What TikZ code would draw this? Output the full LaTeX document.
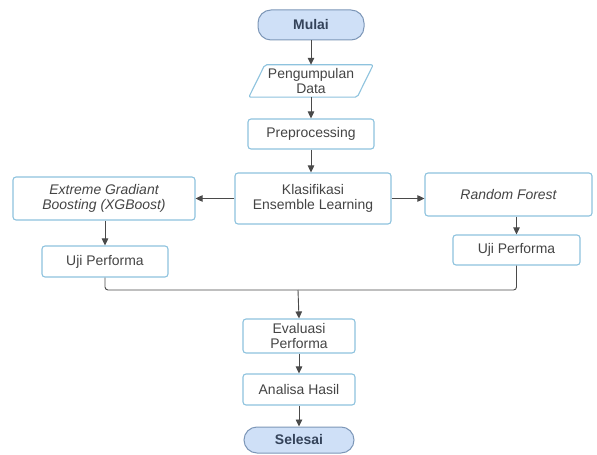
\documentclass[tikz,border=0pt]{standalone}
\usepackage{fontspec}
\setmainfont{Liberation Sans}
\usetikzlibrary{arrows.meta,calc}
\definecolor{boxc}{HTML}{8EC3DE}
\definecolor{termfill}{HTML}{CFE0F7}
\definecolor{termdraw}{HTML}{7D97B8}
\definecolor{txt}{HTML}{444444}
\definecolor{termtxt}{HTML}{34435A}
\definecolor{linec}{HTML}{4A4A4A}
\begin{document}
\begin{tikzpicture}[x=1bp,y=-1bp,
  every node/.style={font=\fontsize{14}{15.5}\selectfont, text=txt, align=center, inner sep=0pt},
  procbox/.style={draw=boxc, line width=1.1bp, fill=white, rounded corners=3bp, rectangle},
  termbox/.style={draw=termdraw, line width=1bp, fill=termfill, rectangle, rounded corners=13bp,
    font=\fontsize{14}{15.5}\selectfont\bfseries, text=termtxt},
  conn/.style={draw=linec, line width=0.9bp},
  arr/.style={conn, -{Triangle[length=7bp,width=6.5bp]}}
]
\useasboundingbox (0,0) rectangle (597,455);
\fill[white] (0,0) rectangle (597,455);

\node[termbox, minimum width=106bp, minimum height=30bp] (mulai) at (311,25) {Mulai};
\node[minimum width=124bp, minimum height=32bp] (pd) at (311,81) {};
\draw[draw=boxc, line width=1.1bp, fill=white, rounded corners=2bp]
  (pd.south west) -- ([xshift=-16bp]pd.south east) -- (pd.north east) -- ([xshift=16bp]pd.north west) -- cycle;
\node at (pd.center) {Pengumpulan\\Data};
\node[procbox, minimum width=126bp, minimum height=30bp] (pre) at (311,134) {Preprocessing};
\node[procbox, minimum width=156bp, minimum height=51bp] (kla) at (313,198.5) {Klasifikasi\\Ensemble Learning};
\node[procbox, minimum width=182bp, minimum height=43bp, font=\fontsize{14}{15.5}\selectfont\itshape] (xgb) at (104,198.5) {Extreme Gradiant\\Boosting (XGBoost)};
\node[procbox, minimum width=167bp, minimum height=43bp, font=\fontsize{14}{15.5}\selectfont\itshape] (rf) at (508.5,194.5) {Random Forest};
\node[procbox, minimum width=126bp, minimum height=31bp] (ujiL) at (105,261.5) {Uji Performa};
\node[procbox, minimum width=127bp, minimum height=30bp] (ujiR) at (516.5,250) {Uji Performa};
\node[procbox, minimum width=112bp, minimum height=34bp] (ev) at (299,336) {Evaluasi\\Performa};
\node[procbox, minimum width=112bp, minimum height=31bp] (an) at (299,389.5) {Analisa Hasil};
\node[termbox, minimum width=110bp, minimum height=26bp] (sel) at (299,440) {Selesai};
\coordinate (m) at (298,290);

\draw[arr] (mulai.south) -- (pd.north);
\draw[arr] (pd.south) -- (pre.north);
\draw[arr] (pre.south) -- (pre.south |- kla.north);
\draw[arr] (kla.west) -- (xgb.east |- kla.west);
\draw[arr] (kla.east) -- (rf.west |- kla.east);
\draw[arr] (ujiL.north |- xgb.south) -- (ujiL.north);
\draw[arr] (ujiR.north |- rf.south) -- (ujiR.north);
\draw[conn, rounded corners=3bp] (ujiL.south) |- (m) -| (ujiR.south);
\draw[arr] (m) -- (ev.north);
\draw[arr] (ev.south) -- (an.north);
\draw[arr] (an.south) -- (sel.north);
\end{tikzpicture}
\end{document}
